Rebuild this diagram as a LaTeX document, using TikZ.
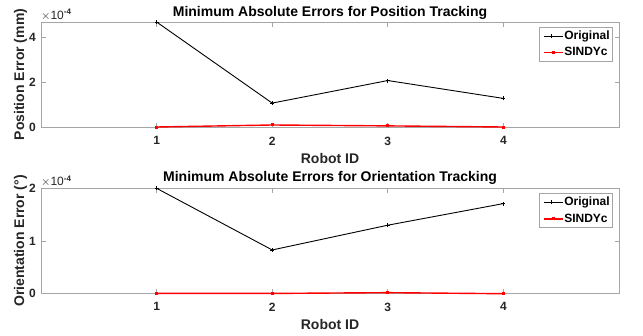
\documentclass[tikz,border=0pt]{standalone}
\usepackage{fontspec}
\setmainfont{Liberation Sans}
\usetikzlibrary{positioning}
\definecolor{txtgray}{RGB}{38,38,38}
\definecolor{axgray}{RGB}{165,165,165}
\definecolor{lnred}{RGB}{255,0,0}

\tikzset{
  axisbox/.style={draw=axgray, line width=0.8pt},
  tickmark/.style={draw=axgray, line width=0.8pt},
  ticklab/.style={font=\fontsize{12}{12}\selectfont\bfseries, text=txtgray, inner sep=0pt},
  axlab/.style={font=\fontsize{14}{14}\selectfont\bfseries, text=txtgray, inner sep=0pt},
  expolab/.style={font=\fontsize{12}{12}\selectfont, text=txtgray, inner sep=0pt, anchor=south west},
  ptitle/.style={font=\fontsize{14}{14}\selectfont\bfseries, text=black, inner sep=0pt, anchor=base},
  legbox/.style={draw=axgray, fill=white, line width=0.8pt, inner sep=3pt, column sep=1pt, row sep=5pt, anchor=north east},
  legtext/.style={font=\fontsize{12}{12}\selectfont\bfseries, text=black, anchor=west, inner sep=0pt, text height=9pt, text depth=2.5pt},
  orig/.style={black, line width=0.9pt},
  sindy/.style={lnred, line width=1.4pt},
  origmark/.style={black, line width=0.8pt},
  sindymark/.style={fill=lnred, draw=none}
}

\begin{document}
\begin{tikzpicture}[x=1pt, y=-1pt]
\useasboundingbox[fill=white] (0,0) rectangle (643,335);

% position tracking
\begin{scope}[shift={(41pt,-127pt)}, x=115.6pt, y=22.34pt]
\draw[axisbox] (0,0) rectangle (5,4.7);
\foreach \i in {1,...,4} {
  \draw[tickmark] (\i,0) -- ++(0pt,4.5pt);
  \draw[tickmark] (\i,4.7) -- ++(0pt,-4.5pt);
  \node[ticklab, anchor=north] (pxt\i) at ([yshift=-9.5pt]\i,0) {\i};
}
\foreach \v in {0,2,4} {
  \draw[tickmark] (0,\v) -- ++(4.5pt,0pt);
  \draw[tickmark] (5,\v) -- ++(-4.5pt,0pt);
  \node[ticklab, anchor=east] (pyt\v) at ([xshift=-5pt]0,\v) {\v};
}
\node[expolab] (pexp) at ([yshift=1.5pt]0,4.7) {$\times$10\textsuperscript{\bfseries -4}};
\node[ptitle] (ptitle) at ([yshift=6pt]2.5,4.7) {Minimum Absolute Errors for Position Tracking};
\node[axlab, anchor=base] (pxlab) at ([yshift=-36pt]2.5,0) {Robot ID};
\node[axlab, anchor=base, rotate=90] (pylab) at ([xshift=-17pt]0,2.35) {Position Error (mm)};

\foreach \i/\v in {1/4.70, 2/1.07, 3/2.08, 4/1.28}
  \coordinate (po\i) at (\i,\v);
\foreach \i/\v in {1/0.0, 2/0.09, 3/0.05, 4/0.0}
  \coordinate (ps\i) at (\i,\v);
\draw[orig] (po1) -- (po2) -- (po3) -- (po4);
\draw[sindy] (ps1) -- (ps2) -- (ps3) -- (ps4);
\foreach \i in {1,...,4} {
  \draw[origmark] ([xshift=-2pt]po\i) -- ([xshift=2pt]po\i) ([yshift=-2pt]po\i) -- ([yshift=2pt]po\i);
  \fill[sindymark] ([shift={(-1.5pt,-1.5pt)}]ps\i) rectangle ([shift={(1.5pt,1.5pt)}]ps\i);
}

\matrix (pleg) [legbox] at ([xshift=-6pt, yshift=-5pt]5,4.7) {
  \draw[orig] (0pt,0pt) -- (19pt,0pt); \draw[origmark] (8pt,-2pt) -- (8pt,2pt); &
  \node[legtext] {Original}; \\
  \draw[sindy] (0pt,0pt) -- (19pt,0pt); \fill[sindymark] (8pt,-1.5pt) rectangle (11pt,1.5pt); &
  \node[legtext] {SINDYc}; \\
};
\end{scope}

% orientation tracking
\begin{scope}[shift={(41pt,-293.7pt)}, x=115.6pt, y=52.7pt]
\draw[axisbox] (0,0) rectangle (5,2);
\foreach \i in {1,...,4} {
  \draw[tickmark] (\i,0) -- ++(0pt,4.5pt);
  \draw[tickmark] (\i,2) -- ++(0pt,-4.5pt);
  \node[ticklab, anchor=north] (oxt\i) at ([yshift=-8.8pt]\i,0) {\i};
}
\foreach \v in {0,1,2} {
  \draw[tickmark] (0,\v) -- ++(4.5pt,0pt);
  \draw[tickmark] (5,\v) -- ++(-4.5pt,0pt);
  \node[ticklab, anchor=east] (oyt\v) at ([xshift=-5pt]0,\v) {\v};
}
\node[expolab] (oexp) at ([yshift=1.5pt]0,2) {$\times$10\textsuperscript{\bfseries -4}};
\node[ptitle] (otitle) at ([yshift=6.5pt]2.5,2) {Minimum Absolute Errors for Orientation Tracking};
\node[axlab, anchor=base] (oxlab) at ([yshift=-35.6pt]2.5,0) {Robot ID};
\node[axlab, anchor=base, rotate=90] (oylab) at ([xshift=-17pt]0,1) {Orientation Error (\textdegree)};

\foreach \i/\v in {1/2.0, 2/0.83, 3/1.30, 4/1.71}
  \coordinate (oo\i) at (\i,\v);
\foreach \i/\v in {1/0.005, 2/0.005, 3/0.02, 4/0.0}
  \coordinate (os\i) at (\i,\v);
\draw[orig] (oo1) -- (oo2) -- (oo3) -- (oo4);
\draw[sindy] (os1) -- (os2) -- (os3) -- (os4);
\foreach \i in {1,...,4} {
  \draw[origmark] ([xshift=-2pt]oo\i) -- ([xshift=2pt]oo\i) ([yshift=-2pt]oo\i) -- ([yshift=2pt]oo\i);
  \fill[sindymark] ([shift={(-1.5pt,-1.5pt)}]os\i) rectangle ([shift={(1.5pt,1.5pt)}]os\i);
}

\matrix (oleg) [legbox] at ([xshift=-6pt, yshift=-5pt]5,2) {
  \draw[orig] (0pt,0pt) -- (19pt,0pt); \draw[origmark] (8pt,-2pt) -- (8pt,2pt); &
  \node[legtext] {Original}; \\
  \draw[sindy] (0pt,0pt) -- (19pt,0pt); \fill[sindymark] (8pt,-1.5pt) rectangle (11pt,1.5pt); &
  \node[legtext] {SINDYc}; \\
};
\end{scope}
\end{tikzpicture}
\end{document}
